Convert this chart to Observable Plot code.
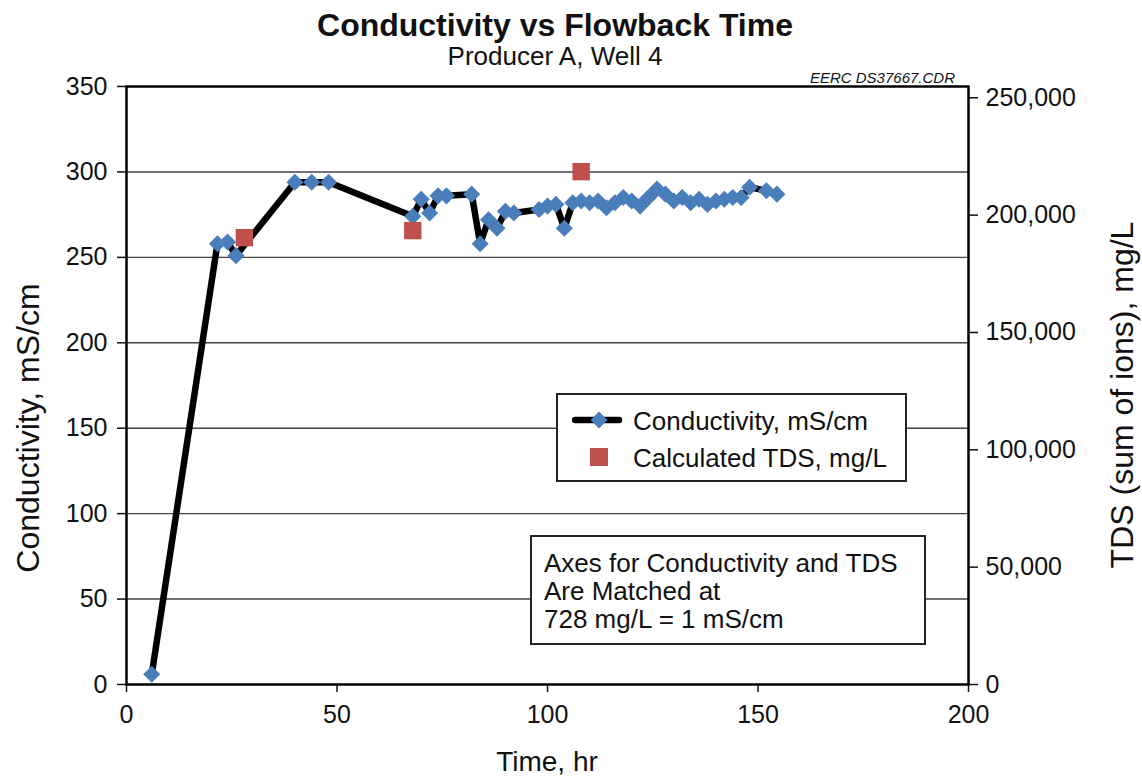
<!DOCTYPE html>
<html>
<head>
<meta charset="utf-8">
<script src="https://cdn.jsdelivr.net/npm/d3@7"></script>
<script src="https://cdn.jsdelivr.net/npm/@observablehq/plot@0.6"></script>
<style>
  body { margin: 0; background: #fff; }
  #wrap { position: relative; width: 1142px; height: 779px; font-family: "Liberation Sans", Arial, sans-serif; color: #111; }
  #wrap svg { position: absolute; left: 0; top: 0; }
  .abs { position: absolute; white-space: nowrap; }
  .box { position: absolute; box-sizing: border-box; background: #fff; border: 2px solid #222; }
</style>
</head>
<body>
<div id="wrap"></div>
<script>
// ---- data ----
const timeHr = [6, 21.6, 24, 26, 40, 44, 48, 68, 70, 72, 74, 76, 82, 84, 86, 88, 90, 92, 98, 100, 102, 104, 106, 108, 110, 112, 114, 116, 118, 120, 122, 124, 126, 128, 130, 132, 134, 136, 138, 140, 142, 144, 146, 148, 152, 154.5];
const conductivity = [6, 258, 259, 251, 294, 294, 294, 274, 284, 276, 286, 286, 287, 258, 272, 267, 277, 276, 278, 280, 281, 267, 282, 283, 282, 283, 279, 282, 285, 283, 280, 285, 290, 287, 283, 285, 282, 284, 281, 283, 284, 285, 285, 291, 289, 287];
const tdsTime = [28, 68, 108];
const tdsValue = [190400, 193400, 218500];
const convFactor = 728; // mg/L per mS/cm
const xTicks = [0, 50, 100, 150, 200];
const yTicks = [0, 50, 100, 150, 200, 250, 300, 350];
const tdsTicks = [0, 50000, 100000, 150000, 200000, 250000];

const condData = timeHr.map((t, i) => ({t, c: conductivity[i]}));
const tdsData = tdsTime.map((t, i) => ({t, v: tdsValue[i] / convFactor}));

const BLUE = "#4A7EBB", RED = "#C0504D";
const FONT = "'Liberation Sans', Arial, sans-serif";

const chart = Plot.plot({
  width: 1142, height: 779,
  marginTop: 86, marginRight: 174, marginBottom: 95, marginLeft: 126,
  x: {domain: [0, 200]},
  y: {domain: [0, 350]},
  style: {fontFamily: FONT, background: "transparent", color: "#111"},
  marks: [
    Plot.gridY(yTicks.slice(1, -1), {stroke: "#222", strokeOpacity: 0.85, strokeWidth: 1.4}),
    Plot.axisY(yTicks, {anchor: "left", tickSize: 9, tickPadding: 10, fontSize: 25, label: null, strokeWidth: 1.5}),
    Plot.axisY(tdsTicks.map(v => v / convFactor), {anchor: "right", tickSize: 9, tickPadding: 8, fontSize: 25, label: null, strokeWidth: 1.5,
      tickFormat: d => d3.format(",")(Math.round(d * convFactor))}),
    Plot.axisX(xTicks, {anchor: "bottom", tickSize: 8, tickPadding: 13, fontSize: 25, label: null, strokeWidth: 1.5}),
    Plot.line(condData, {x: "t", y: "c", stroke: "#000", strokeWidth: 6.5, strokeLinejoin: "round"}),
    Plot.dot(condData, {x: "t", y: "c", symbol: "diamond2", r: 7.7, fill: BLUE, stroke: null}),
    Plot.dot(tdsData, {x: "t", y: "v", symbol: "square", r: 9.8, fill: RED, stroke: null}),
    Plot.frame({stroke: "#000", strokeWidth: 2.5})
  ]
});

const wrap = document.getElementById("wrap");
wrap.appendChild(chart);

function addText(txt, css) {
  const d = document.createElement("div");
  d.className = "abs";
  d.textContent = txt;
  Object.assign(d.style, css);
  wrap.appendChild(d);
  return d;
}

// Titles
addText("Conductivity vs Flowback Time", {left: "0px", width: "1110px", textAlign: "center", top: "9px", fontSize: "32px", lineHeight: "32px", fontWeight: "bold"});
addText("Producer A, Well 4", {left: "0px", width: "1110px", textAlign: "center", top: "43px", fontSize: "26px", lineHeight: "26px"});
addText("EERC DS37667.CDR", {right: "187px", top: "70px", fontSize: "15px", lineHeight: "15px", fontStyle: "italic"});

// Axis titles
addText("Time, hr", {left: "547px", top: "762px", transform: "translate(-50%,-50%)", fontSize: "28px", lineHeight: "28px"});
addText("Conductivity, mS/cm", {left: "28px", top: "428px", transform: "translate(-50%,-50%) rotate(-90deg)", fontSize: "32px", lineHeight: "32px"});
addText("TDS (sum of ions), mg/L", {left: "1122px", top: "395px", transform: "translate(-50%,-50%) rotate(-90deg)", fontSize: "32px", lineHeight: "32px"});

// Legend box
const leg = document.createElement("div");
leg.className = "box";
Object.assign(leg.style, {left: "556px", top: "393px", width: "351px", height: "89px"});
wrap.appendChild(leg);
const ns = "http://www.w3.org/2000/svg";
const sw = document.createElementNS(ns, "svg");
sw.setAttribute("width", "60"); sw.setAttribute("height", "80");
Object.assign(sw.style, {position: "absolute", left: "14px", top: "0px"});
sw.innerHTML = `<line x1="3" x2="47" y1="25" y2="25" stroke="#000" stroke-width="6.5" stroke-linecap="round"/>
<path d="M27,16.5 L35.5,25 L27,33.5 L18.5,25 Z" fill="${BLUE}"/>
<rect x="18" y="53" width="18" height="18" fill="${RED}"/>`;
leg.appendChild(sw);
addText("Conductivity, mS/cm", {left: "633px", top: "408px", fontSize: "26px", lineHeight: "26px"});
addText("Calculated TDS, mg/L", {left: "633px", top: "445px", fontSize: "26px", lineHeight: "26px"});

// Note box
const note = document.createElement("div");
note.className = "box";
Object.assign(note.style, {left: "530px", top: "535px", width: "396px", height: "110px"});
wrap.appendChild(note);
addText("Axes for Conductivity and TDS", {left: "544px", top: "550px", fontSize: "26px", lineHeight: "26px"});
addText("Are Matched at", {left: "544px", top: "578px", fontSize: "26px", lineHeight: "26px"});
addText("728 mg/L = 1 mS/cm", {left: "544px", top: "606px", fontSize: "26px", lineHeight: "26px"});
</script>
</body>
</html>
